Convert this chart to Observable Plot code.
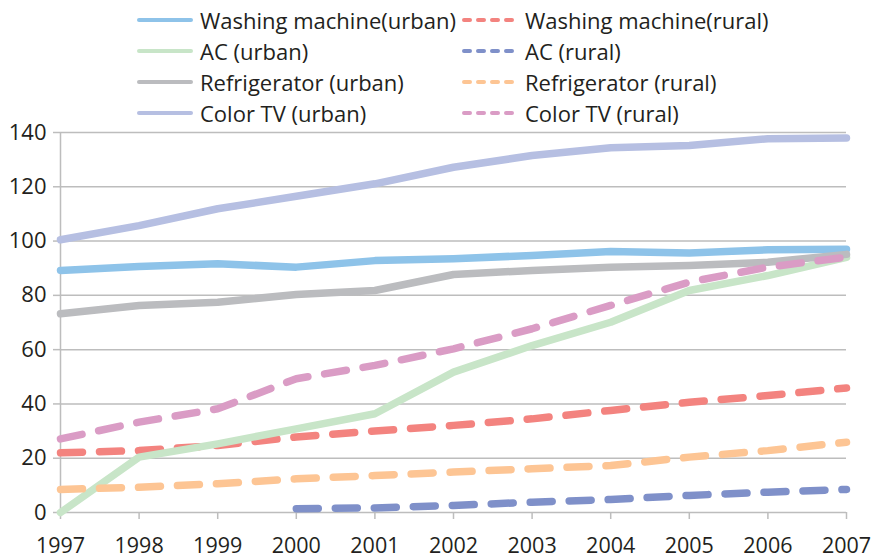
<!DOCTYPE html>
<html>
<head>
<meta charset="utf-8">
<script src="https://cdn.jsdelivr.net/npm/d3@7"></script>
<script src="https://cdn.jsdelivr.net/npm/@observablehq/plot@0.6"></script>
<style>
  body { margin: 0; background: #fff; font-family: "Open Sans", sans-serif; color: #231F20; }
  #legend { height: 124px; box-sizing: border-box; padding-top: 4px; padding-left: 137px;
            display: grid; grid-template-columns: 325px auto; grid-auto-rows: 31px; }
  .item { display: flex; align-items: center; font-size: 22px; white-space: nowrap; }
  .item svg { margin-right: 7px; flex: none; }
</style>
</head>
<body>
<div id="legend"></div>
<div id="chart"></div>
<script>
const years = [1997, 1998, 1999, 2000, 2001, 2002, 2003, 2004, 2005, 2006, 2007];
const yTicks = [0, 20, 40, 60, 80, 100, 120, 140];

const washingUrban = [89.2, 90.6, 91.6, 90.4, 92.8, 93.5, 94.7, 96.2, 95.6, 96.8, 97.0];
const washingRural = [22.0, 22.8, 24.7, 27.8, 30.0, 32.1, 34.5, 37.6, 40.6, 43.1, 45.9];
const acUrban      = [0, 20.4, 25.3, 30.8, 36.4, 51.7, 61.5, 70.1, 81.8, 87.3, 94.0];
const acRural      = [null, null, null, 1.4, 1.7, 2.6, 3.8, 4.8, 6.3, 7.5, 8.5];
const fridgeUrban  = [73.2, 76.3, 77.5, 80.3, 81.8, 87.7, 89.2, 90.4, 91.0, 92.2, 95.1];
const fridgeRural  = [8.5, 9.3, 10.6, 12.4, 13.6, 14.9, 16.1, 17.3, 20.4, 22.8, 25.9];
const tvUrban      = [100.5, 105.7, 111.9, 116.5, 121.1, 127.2, 131.5, 134.4, 135.2, 137.7, 138.0];
const tvRural      = [27.1, 33.3, 38.2, 49.3, 54.2, 60.3, 67.7, 76.3, 84.9, 90.4, 94.1];

const seriesNames = [
  "Washing machine(urban)", "Washing machine(rural)",
  "AC (urban)", "AC (rural)",
  "Refrigerator (urban)", "Refrigerator (rural)",
  "Color TV (urban)", "Color TV (rural)"
];
const seriesValues = [washingUrban, washingRural, acUrban, acRural, fridgeUrban, fridgeRural, tvUrban, tvRural];
const seriesColors = ["#8EC3E9", "#F3837F", "#C8E5C8", "#7F90C9", "#BBBCBF", "#FDC594", "#B6BFE2", "#DA9CC5"];
const seriesDashed = [false, true, false, true, false, true, false, true];

// Legend
const legend = document.getElementById("legend");
seriesNames.forEach((name, i) => {
  const item = document.createElement("div");
  item.className = "item";
  const dash = seriesDashed[i] ? 'stroke-dasharray="6,8"' : "";
  item.innerHTML = `<svg width="56" height="8"><line x1="2" x2="54" y1="4" y2="4" stroke="${seriesColors[i]}" stroke-width="4" stroke-linecap="round" ${dash}/></svg><span>${name}</span>`;
  legend.appendChild(item);
});

const marks = [
  Plot.gridY(yTicks, { stroke: "#BDBDBD", strokeOpacity: 1, strokeWidth: 1.5, x1: 1997, x2: 2007 }),
  Plot.axisY(yTicks, { tickSize: 7, tickPadding: 7, stroke: "#BDBDBD", strokeWidth: 1.5, fontSize: 22, fill: "#231F20", label: null }),
  Plot.axisX(years, { tickSize: 7, tickPadding: 18, stroke: "#BDBDBD", strokeWidth: 1.5, fontSize: 21.5, fill: "#231F20", tickFormat: d => String(d), label: null }),
  Plot.ruleX([1997], { stroke: "#BDBDBD", strokeWidth: 1.5 })
];

seriesNames.forEach((name, i) => {
  const data = years.map((y, j) => ({ year: y, value: seriesValues[i][j] }));
  marks.push(Plot.lineY(data, {
    x: "year", y: "value",
    stroke: seriesColors[i],
    strokeWidth: 7.5,
    strokeLinecap: "round",
    strokeLinejoin: "round",
    strokeDasharray: seriesDashed[i] ? "22,17" : null
  }));
});

const chart = Plot.plot({
  width: 871,
  height: 435,
  marginTop: 8,
  marginBottom: 47,
  marginLeft: 60,
  marginRight: 25,
  style: { overflow: "visible", fontFamily: "Open Sans, sans-serif", background: "transparent" },
  x: { domain: [1997, 2007], axis: null },
  y: { domain: [0, 140], axis: null },
  marks
});
document.getElementById("chart").appendChild(chart);
</script>
</body>
</html>
